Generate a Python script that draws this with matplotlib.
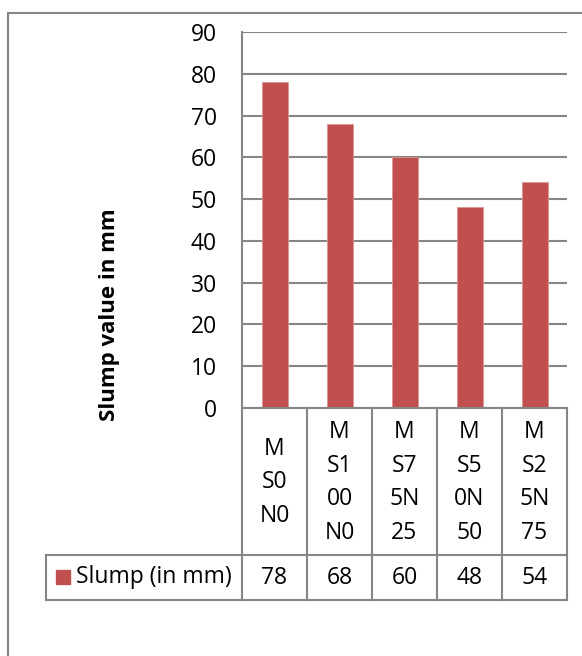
import matplotlib
matplotlib.use("Agg")
import matplotlib.pyplot as plt
from matplotlib.lines import Line2D
from matplotlib.patches import Rectangle

categories = ["MS0N0", "MS100N0", "MS75N25", "MS50N50", "MS25N75"]
cat_labels = ["M\nS0\nN0", "M\nS1\n00\nN0", "M\nS7\n5N\n25", "M\nS5\n0N\n50", "M\nS2\n5N\n75"]
slump = [78, 68, 60, 48, 54]
series_name = "Slump (in mm)"
y_label = "Slump value in mm"
y_ticks = [0, 10, 20, 30, 40, 50, 60, 70, 80, 90]

W, H = 582, 656
plt.rcParams['font.family'] = ['Open Sans', 'DejaVu Sans']
fig = plt.figure(figsize=(W / 100, H / 100), dpi=100)
fig.patch.set_facecolor("white")

def fx(x):
    return x / W

def fy(y):
    return 1 - y / H

grid_c = "#868686"
bar_c = "#C0504D"
FS = 16.5

# plot area
L, R, T, B = 242, 567, 32, 408
ax = fig.add_axes([fx(L), fy(B), fx(R) - fx(L), fy(T) - fy(B)])
x = list(range(len(categories)))
ax.bar(x, slump, width=0.4, color=bar_c, edgecolor="#d99694", linewidth=0.6, zorder=3)
ax.set_xlim(-0.5, len(categories) - 0.5)
ax.set_ylim(0, 90)
ax.set_yticks(y_ticks)
ax.set_yticklabels([str(t) for t in y_ticks], fontsize=FS)
ax.tick_params(axis='y', length=0, pad=18)
ax.set_xticks([])
for s in ["top", "right", "bottom"]:
    ax.spines[s].set_visible(False)
ax.spines["left"].set_color(grid_c)
ax.spines["left"].set_linewidth(1.5)
for t in y_ticks:
    ax.axhline(t, color=grid_c, linewidth=1.5, zorder=1)

# y label
fig.text(fx(110), fy(315), y_label, rotation=90, fontsize=16, fontweight="bold",
         ha="center", va="center")

# data table
row1_bot, row2_bot = 555, 600
leg_left = 46
colw = (R - L) / len(categories)
lines = []
lines.append(((leg_left, R), (row1_bot, row1_bot)))
lines.append(((leg_left, R), (row2_bot, row2_bot)))
lines.append(((L, R), (B, B)))
lines.append(((leg_left, leg_left), (row1_bot, row2_bot)))
for i in range(len(categories) + 1):
    xc = L + i * colw
    lines.append(((xc, xc), (B, row2_bot)))
for (xs, ys) in lines:
    fig.add_artist(Line2D([fx(xs[0]), fx(xs[1])], [fy(ys[0]), fy(ys[1])],
                          color=grid_c, linewidth=1.5))

for i, (lab, v) in enumerate(zip(cat_labels, slump)):
    xc = L + (i + 0.5) * colw
    fig.text(fx(xc), fy((B + row1_bot) / 2 + 1), lab, fontsize=FS, ha="center",
             va="center", linespacing=1.55, multialignment="center")
    fig.text(fx(xc), fy((row1_bot + row2_bot) / 2 + 1), str(v), fontsize=FS,
             ha="center", va="center")

# legend key
fig.add_artist(Rectangle((fx(56), fy(584)), fx(14), fy(570) - fy(584), color=bar_c,
                         transform=fig.transFigure))
fig.text(fx(76), fy(577), series_name, fontsize=FS, ha="left", va="center")

# outer frame
fig.add_artist(Line2D([fx(8), fx(8)], [fy(13), 0], color=grid_c, linewidth=1.5))
fig.add_artist(Line2D([fx(8), 1], [fy(13), fy(13)], color=grid_c, linewidth=1.5))

fig.savefig("out.png", dpi=100, facecolor="white")
